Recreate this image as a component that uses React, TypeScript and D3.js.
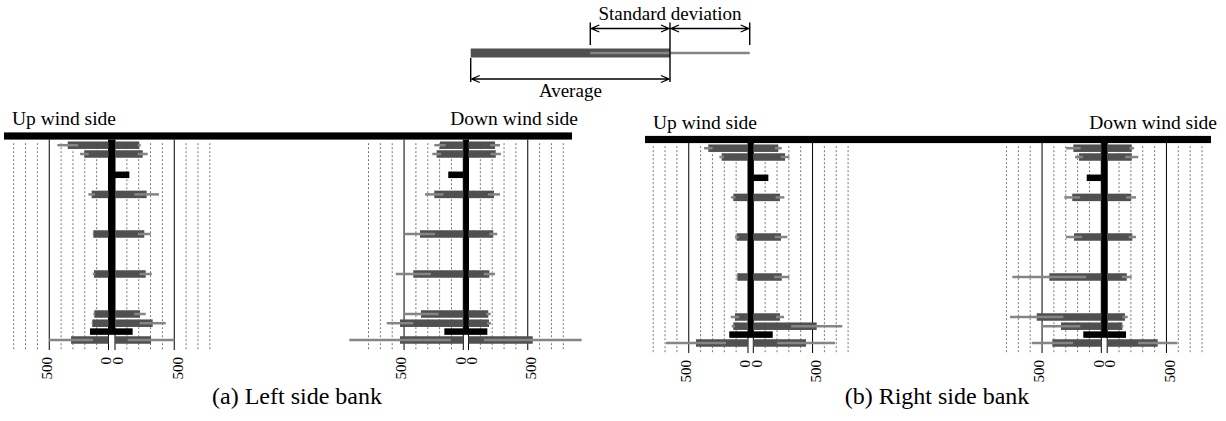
import React, { useEffect, useRef } from "react";
import * as d3 from "d3";

// depth of each measuring row below the bank top (arbitrary units, 0 = top)
const ROW_DEPTH = [2.3, 4.5, 9.7, 14.6, 24.5, 34.5, 44.5, 46.8, 48.9, 51];
// rows 3 and 9 are single black bars (no std. deviation)
const ROW_KIND = ["avg", "avg", "bar", "avg", "avg", "avg", "avg", "avg", "bar", "avg"];

// (a) left side bank, up wind side
const A_UP_LEFT_AVG = [344, 204, 0, 142, 128, 122, 120, 137, 156, 316];
const A_UP_LEFT_SD = [88, 36, 0, 28, 5, 11, 8, 5, 0, 186];
const A_UP_RIGHT_AVG = [205, 234, 121, 267, 247, 259, 211, 318, 149, 304];
const A_UP_RIGHT_SD = [12, 42, 0, 104, 54, 51, 48, 110, 0, 197];

// (a) left side bank, down wind side
const A_DOWN_LEFT_AVG = [197, 225, 127, 245, 365, 422, 357, 534, 160, 534];
const A_DOWN_LEFT_SD = [48, 37, 0, 78, 127, 148, 149, 112, 0, 428];
const A_DOWN_RIGHT_AVG = [224, 230, 0, 215, 209, 176, 167, 173, 159, 542];
const A_DOWN_RIGHT_SD = [42, 44, 0, 51, 34, 48, 20, 17, 0, 413];

// (b) right side bank, up wind side
const B_UP_LEFT_AVG = [335, 222, 0, 124, 95, 90, 110, 124, 158, 439];
const B_UP_LEFT_SD = [36, 20, 0, 19, 15, 6, 36, 14, 0, 253];
const B_UP_RIGHT_AVG = [211, 268, 127, 225, 234, 240, 225, 535, 164, 445];
const B_UP_RIGHT_SD = [29, 36, 0, 37, 53, 64, 34, 216, 0, 244];

// (b) right side bank, down wind side
const B_DOWN_LEFT_AVG = [236, 188, 123, 245, 230, 439, 545, 340, 152, 413];
const B_DOWN_LEFT_SD = [62, 34, 0, 67, 68, 312, 225, 163, 0, 174];
const B_DOWN_RIGHT_AVG = [207, 207, 0, 201, 212, 165, 150, 128, 159, 426];
const B_DOWN_RIGHT_SD = [19, 55, 0, 42, 31, 42, 23, 8, 0, 166];

const GRID_TICKS = [100, 200, 300, 400, 500, 600, 700, 800];
const LABEL_TICKS = [0, 500];

const LEGEND_AVG = 250;
const LEGEND_SD = 100;

const SERIF = "'Liberation Serif', 'Times New Roman', serif";

const App = () => {
  const ref = useRef<SVGSVGElement>(null);

  useEffect(() => {
    const svg = d3.select(ref.current);
    svg.selectAll("*").remove();

    const PX100 = 11.85;
    const y = d3.scaleLinear().domain([0, 54]).range([136, 352]);

    const panels = [
      { zl: 108.5, zr: 115, dy: 0, la: A_UP_LEFT_AVG, ls: A_UP_LEFT_SD, ra: A_UP_RIGHT_AVG, rs: A_UP_RIGHT_SD },
      { zl: 463.3, zr: 468.5, dy: 0, la: A_DOWN_LEFT_AVG, ls: A_DOWN_LEFT_SD, ra: A_DOWN_RIGHT_AVG, rs: A_DOWN_RIGHT_SD },
      { zl: 748, zr: 753.3, dy: 3, la: B_UP_LEFT_AVG, ls: B_UP_LEFT_SD, ra: B_UP_RIGHT_AVG, rs: B_UP_RIGHT_SD },
      { zl: 1101.3, zr: 1107.2, dy: 3, la: B_DOWN_LEFT_AVG, ls: B_DOWN_LEFT_SD, ra: B_DOWN_RIGHT_AVG, rs: B_DOWN_RIGHT_SD },
    ];

    const banks = [
      { x0: 4, x1: 572, dy: 0, caption: "(a) Left side bank", cx: 297 },
      { x0: 645, x1: 1211, dy: 3.5, caption: "(b) Right side bank", cx: 937 },
    ];

    panels.forEach((p) => {
      const g = svg.append("g").attr("transform", `translate(0,${p.dy})`);
      const sl = d3.scaleLinear().domain([0, 800]).range([p.zl, p.zl - 8 * PX100]);
      const sr = d3.scaleLinear().domain([0, 800]).range([p.zr, p.zr + 8 * PX100]);
      const top = y(0.9);
      const bottom = y(53.5);

      // grid
      [sl, sr].forEach((s) => {
        GRID_TICKS.forEach((t) => {
          g.append("line")
            .attr("x1", s(t)).attr("x2", s(t))
            .attr("y1", t === 500 ? top : y(1.8)).attr("y2", bottom)
            .attr("stroke", t === 500 ? "#000" : "#777")
            .attr("stroke-width", 1)
            .attr("stroke-dasharray", t === 500 ? null : "2,2");
        });
        g.append("line")
          .attr("x1", s(0)).attr("x2", s(0))
          .attr("y1", top).attr("y2", bottom)
          .attr("stroke", "#000").attr("stroke-width", 1);
      });

      // center wall
      g.append("rect")
        .attr("x", p.zl).attr("width", p.zr - p.zl)
        .attr("y", top).attr("height", y(49.7) - top)
        .attr("fill", "#000");

      ROW_DEPTH.forEach((d, i) => {
        const kind = ROW_KIND[i];
        const h = kind === "bar" ? 6.5 : 7.5;
        const fill = kind === "bar" ? "#000" : "#505050";
        const cy = y(d);
        const sides = [
          { s: sl, avg: p.la[i], sd: p.ls[i] },
          { s: sr, avg: p.ra[i], sd: p.rs[i] },
        ];
        sides.forEach(({ s, avg, sd }) => {
          if (avg <= 0) return;
          const xa = s(0), xb = s(avg);
          g.append("rect")
            .attr("x", Math.min(xa, xb)).attr("width", Math.abs(xb - xa))
            .attr("y", cy - h / 2).attr("height", h)
            .attr("fill", fill);
          if (kind === "avg" && sd > 0) {
            g.append("line")
              .attr("x1", s(Math.max(0, avg - sd))).attr("x2", s(avg + sd))
              .attr("y1", cy).attr("y2", cy)
              .attr("stroke", "#858585").attr("stroke-width", 2.5);
          }
        });
      });

      // tick labels
      const labels = [
        ...LABEL_TICKS.map((t) => ({ x: sl(t) - 3, t })),
        ...LABEL_TICKS.map((t) => ({ x: sr(t) + 3, t })),
      ];
      labels.forEach(({ x, t }) => {
        g.append("text")
          .attr("transform", `translate(${x},357) rotate(-90)`)
          .attr("text-anchor", "end")
          .attr("dy", "0.35em")
          .attr("font-family", SERIF)
          .attr("font-size", "15px")
          .attr("fill", "#000")
          .text(t);
      });
    });

    banks.forEach((b) => {
      svg.append("rect")
        .attr("x", b.x0).attr("width", b.x1 - b.x0)
        .attr("y", y(-0.9) + b.dy).attr("height", y(0.9) - y(-0.9))
        .attr("fill", "#000");
      svg.append("text")
        .attr("x", b.x0 + 8).attr("y", 125 + b.dy)
        .attr("font-family", SERIF).attr("font-size", "19.5px")
        .text("Up wind side");
      svg.append("text")
        .attr("x", b.x1 + 6).attr("y", 125 + b.dy)
        .attr("text-anchor", "end")
        .attr("font-family", SERIF).attr("font-size", "19.5px")
        .text("Down wind side");
      svg.append("text")
        .attr("x", b.cx).attr("y", 404)
        .attr("text-anchor", "middle")
        .attr("font-family", SERIF).attr("font-size", "24px")
        .text(b.caption);
    });

    // legend
    const lx = d3.scaleLinear().domain([0, LEGEND_AVG]).range([470.7, 670]);
    const lg = svg.append("g");
    lg.append("rect")
      .attr("x", lx(0)).attr("width", lx(LEGEND_AVG) - lx(0))
      .attr("y", 48.5).attr("height", 9)
      .attr("fill", "#505050");
    lg.append("line")
      .attr("x1", lx(LEGEND_AVG - LEGEND_SD)).attr("x2", lx(LEGEND_AVG + LEGEND_SD))
      .attr("y1", 53).attr("y2", 53)
      .attr("stroke", "#858585").attr("stroke-width", 2.5);

    const vline = (x: number, y1: number, y2: number) =>
      lg.append("line")
        .attr("x1", x).attr("x2", x).attr("y1", y1).attr("y2", y2)
        .attr("stroke", "#000").attr("stroke-width", 1.4);
    vline(lx(0), 58, 82);
    vline(lx(LEGEND_AVG - LEGEND_SD), 22.5, 45);
    vline(lx(LEGEND_AVG), 22.5, 82);
    vline(lx(LEGEND_AVG + LEGEND_SD), 22.5, 45);

    const arrow = (x1: number, x2: number, yy: number) => {
      const a = 9, b = 3.5;
      lg.append("path")
        .attr("d", `M${x1 + 1},${yy}L${x2 - 1},${yy}M${x1 + a},${yy - b}L${x1 + 1},${yy}L${x1 + a},${yy + b}M${x2 - a},${yy - b}L${x2 - 1},${yy}L${x2 - a},${yy + b}`)
        .attr("fill", "none").attr("stroke", "#000").attr("stroke-width", 1.3);
    };
    arrow(lx(LEGEND_AVG - LEGEND_SD), lx(LEGEND_AVG), 28.5);
    arrow(lx(LEGEND_AVG), lx(LEGEND_AVG + LEGEND_SD), 28.5);
    arrow(lx(0), lx(LEGEND_AVG), 79);

    lg.append("text")
      .attr("x", lx(LEGEND_AVG)).attr("y", 20)
      .attr("text-anchor", "middle")
      .attr("font-family", SERIF).attr("font-size", "19px")
      .text("Standard deviation");
    lg.append("text")
      .attr("x", (lx(0) + lx(LEGEND_AVG)) / 2).attr("y", 97)
      .attr("text-anchor", "middle")
      .attr("font-family", SERIF).attr("font-size", "19px")
      .text("Average");
  }, []);

  return (
    <svg
      ref={ref}
      width={1226}
      height={421}
      style={{ position: "absolute", left: 0, top: 0, background: "#fff" }}
    />
  );
};

export default App;
